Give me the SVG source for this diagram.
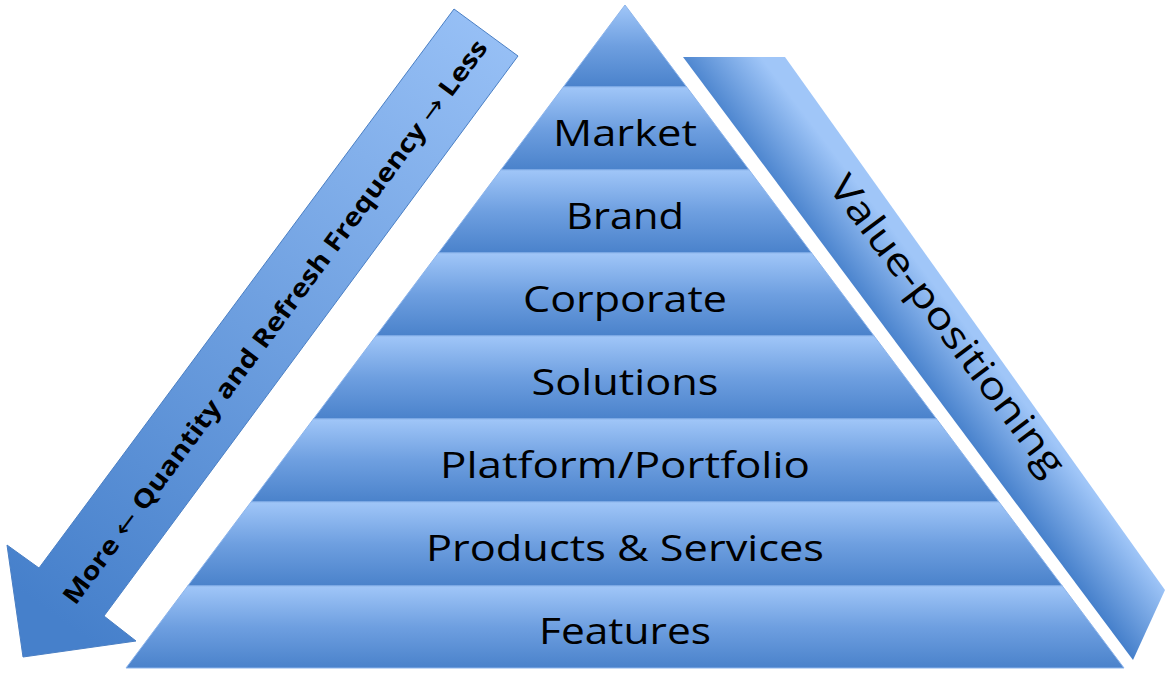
<svg xmlns="http://www.w3.org/2000/svg" width="1170" height="681" viewBox="0 0 1170 681">
<defs>
<linearGradient id="band" x1="0" y1="0" x2="0" y2="1"><stop offset="0" stop-color="#a0c6f8"/><stop offset="0.5" stop-color="#6e9fe0"/><stop offset="1" stop-color="#4a82cb"/></linearGradient>
<linearGradient id="larr" gradientUnits="userSpaceOnUse" x1="486" y1="30" x2="60" y2="620"><stop offset="0" stop-color="#96bff5"/><stop offset="1" stop-color="#4680cb"/></linearGradient>
<linearGradient id="rarr" gradientUnits="userSpaceOnUse" x1="905" y1="360" x2="960" y2="318"><stop offset="0" stop-color="#4680cb"/><stop offset="1" stop-color="#a0c6f8"/></linearGradient>
<style>
.b{fill:url(#band);stroke:#8db5ec;stroke-width:1}
.t{font-family:"Open Sans","Liberation Sans",sans-serif;font-size:37px;fill:#000;text-anchor:middle}
.ar{font-family:"DejaVu Sans",sans-serif;font-weight:normal}
</style>
</defs>
<g id="left-arrow">
<polygon points="454,9 518,56 104,616 136,641 23,657 7,545 39,568" fill="url(#larr)" stroke="#4a7fc4" stroke-width="1"/>
<text x="0" y="0" transform="translate(282,327) rotate(-53.5)" font-family="'Open Sans','Liberation Sans',sans-serif" font-weight="bold" font-size="25" text-anchor="middle" textLength="695" lengthAdjust="spacingAndGlyphs">More <tspan class="ar">←</tspan> Quantity and Refresh Frequency <tspan class="ar">→</tspan> Less</text>
</g>
<g id="right-arrow">
<polygon points="683,57 785,57 1165,590 1133,660" fill="url(#rarr)"/>
<text x="0" y="0" transform="translate(937,333) rotate(53)" font-family="'Open Sans','Liberation Sans',sans-serif" font-size="38" text-anchor="middle" textLength="365" lengthAdjust="spacingAndGlyphs">Value-positioning</text>
</g>
<g id="apex"><polygon class="b" points="625,5 686.7,87 563.3,87"/></g>
<g id="market"><polygon class="b" points="563.3,87 686.7,87 749.2,170 500.8,170"/><text class="t" x="625" y="146" textLength="144" lengthAdjust="spacingAndGlyphs">Market</text></g>
<g id="brand"><polygon class="b" points="500.8,170 749.2,170 811.6,253 438.4,253"/><text class="t" x="625" y="229" textLength="118" lengthAdjust="spacingAndGlyphs">Brand</text></g>
<g id="corporate"><polygon class="b" points="438.4,253 811.6,253 874.1,336 375.9,336"/><text class="t" x="625" y="312" textLength="204" lengthAdjust="spacingAndGlyphs">Corporate</text></g>
<g id="solutions"><polygon class="b" points="375.9,336 874.1,336 936.6,419 313.4,419"/><text class="t" x="625" y="395" textLength="187" lengthAdjust="spacingAndGlyphs">Solutions</text></g>
<g id="platform"><polygon class="b" points="313.4,419 936.6,419 999,502 251,502"/><text class="t" x="625" y="478" textLength="370" lengthAdjust="spacingAndGlyphs">Platform/Portfolio</text></g>
<g id="products"><polygon class="b" points="251,502 999,502 1062.3,586 187.7,586"/><text class="t" x="625" y="561" textLength="398" lengthAdjust="spacingAndGlyphs">Products &amp; Services</text></g>
<g id="features"><polygon class="b" points="187.7,586 1062.3,586 1124,668 126,668"/><text class="t" x="625" y="644" textLength="172" lengthAdjust="spacingAndGlyphs">Features</text></g>
<g id="connectors"/>
</svg>
